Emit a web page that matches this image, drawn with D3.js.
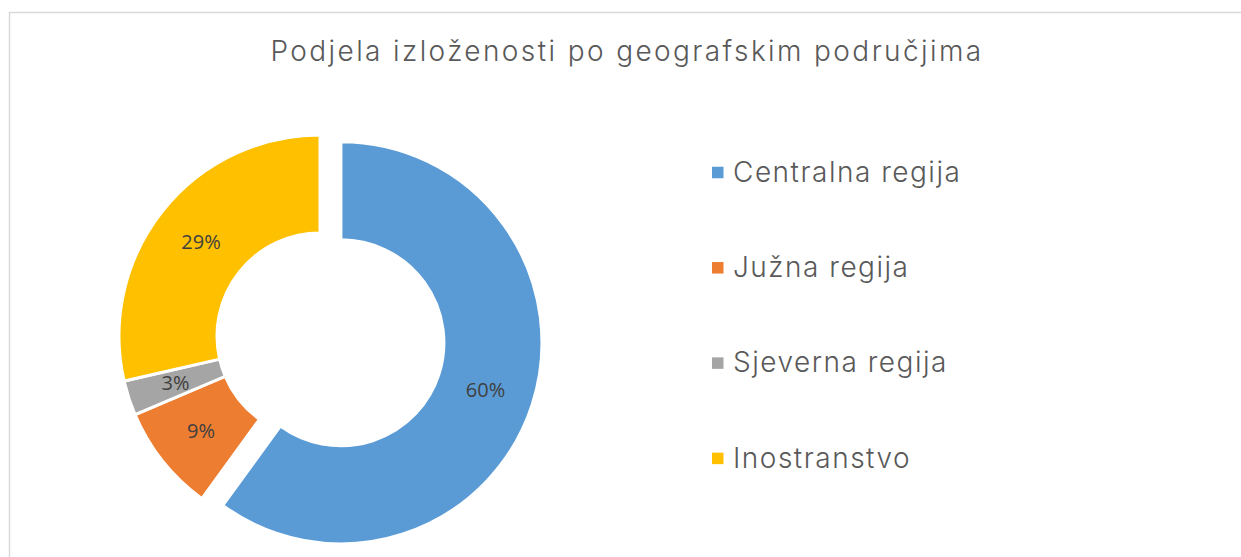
<!DOCTYPE html>
<html>
<head>
<meta charset="utf-8">
<script src="https://cdn.jsdelivr.net/npm/d3@7"></script>
<style>
  html, body { margin: 0; padding: 0; background: #fff; }
  svg { display: block; }
</style>
</head>
<body>
<div id="chart"></div>
<script>
// data
const categories = ["Centralna regija", "Južna regija", "Sjeverna regija", "Inostranstvo"];
const shares = [60.0, 8.6, 2.8, 28.6];
const colors = ["#5b9bd5", "#ed7d31", "#a5a5a5", "#ffc000"];
const exploded = [22, 0, 0, 0];
const title = "Podjela izloženosti po geografskim područjima";

const W = 1241, H = 557;

const svg = d3.select("#chart").append("svg")
  .attr("width", W)
  .attr("height", H);

// chart frame (only top and left edges visible)
svg.append("path")
  .attr("d", `M9.5,${H} V12.5 H${W}`)
  .attr("fill", "none")
  .attr("stroke", "#d9d9d9")
  .attr("stroke-width", 1.5);

// title
svg.append("text")
  .attr("x", 627)
  .attr("y", 61)
  .attr("text-anchor", "middle")
  .attr("font-family", "Inter")
  .attr("font-weight", 300)
  .attr("font-size", 28)
  .attr("letter-spacing", 2.4)
  .attr("fill", "#595959")
  .text(title);

// donut
const cx = 320, cy = 336, outerR = 201, innerR = 103;
const rows = categories.map((c, i) => ({ name: c, value: shares[i], color: colors[i], off: exploded[i] }));

const pie = d3.pie().sort(null).value(d => d.value);
const arc = d3.arc().innerRadius(innerR).outerRadius(outerR);
const labelArc = d3.arc().innerRadius((innerR + outerR) / 2).outerRadius((innerR + outerR) / 2);
const total = d3.sum(shares);

const g = svg.append("g").attr("transform", `translate(${cx},${cy})`);

const slices = g.selectAll("g.slice")
  .data(pie(rows))
  .join("g")
  .attr("class", "slice")
  .attr("transform", a => {
    const mid = (a.startAngle + a.endAngle) / 2;
    return `translate(${Math.sin(mid) * a.data.off},${-Math.cos(mid) * a.data.off})`;
  });

slices.append("path")
  .attr("d", arc)
  .attr("fill", a => a.data.color)
  .attr("stroke", "#fff")
  .attr("stroke-width", 3);

slices.append("text")
  .attr("transform", a => `translate(${labelArc.centroid(a)})`)
  .attr("text-anchor", "middle")
  .attr("dy", "0.36em")
  .attr("font-family", "Open Sans")
  .attr("font-size", 20)
  .attr("fill", "#404040")
  .text(a => Math.round(a.data.value / total * 100) + "%");

// legend
const legend = svg.append("g").attr("transform", "translate(712,172.5)");
const item = legend.selectAll("g")
  .data(rows)
  .join("g")
  .attr("transform", (d, i) => `translate(0,${i * 95.3})`);

item.append("rect")
  .attr("x", 0)
  .attr("y", -5.75)
  .attr("width", 11.5)
  .attr("height", 11.5)
  .attr("fill", d => d.color);

item.append("text")
  .attr("x", 21)
  .attr("y", 0)
  .attr("dy", "0.33em")
  .attr("font-family", "Inter")
  .attr("font-weight", 300)
  .attr("font-size", 28)
  .attr("letter-spacing", 1.5)
  .attr("fill", "#595959")
  .text(d => d.name);
</script>
</body>
</html>
